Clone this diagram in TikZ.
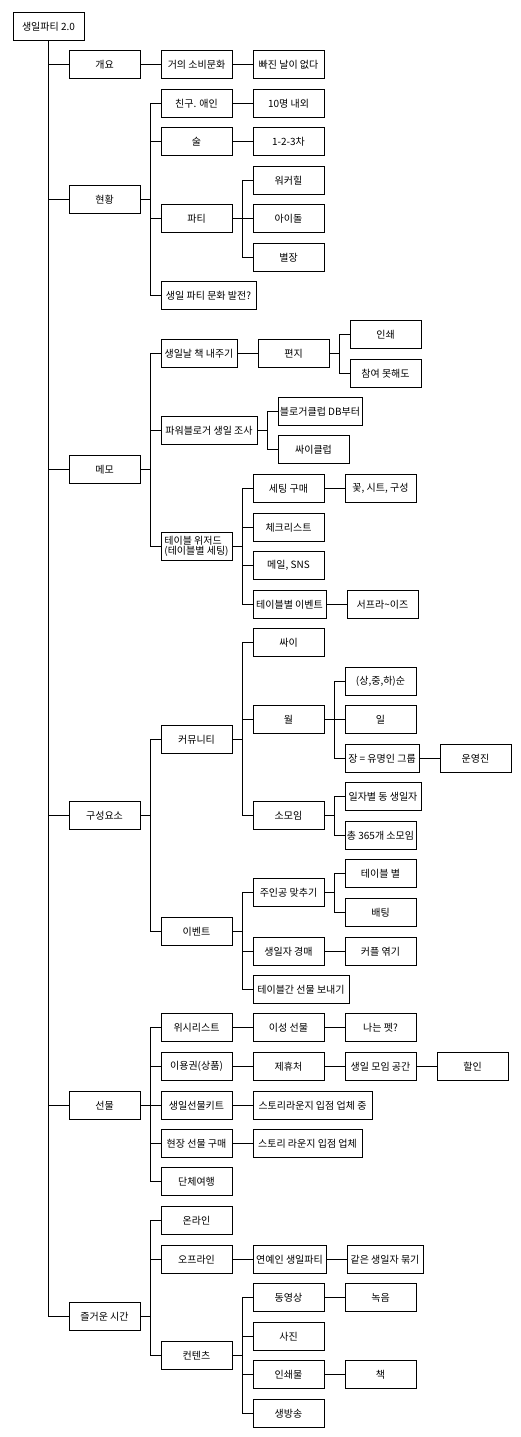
\documentclass[tikz,border=0pt]{standalone}
\usepackage{fontspec}
\setmainfont{Noto Sans CJK KR}
\usepackage{tikz}

\tikzset{
  box/.style={draw, line width=1pt, anchor=west, minimum width=71pt, minimum height=28pt,
    inner xsep=0pt, inner ysep=0pt, font=\fontsize{10}{10.5}\selectfont},
  wire/.style={line width=1pt}
}

\begin{document}
\begin{tikzpicture}[x=1pt, y=-1pt]
    \useasboundingbox (0,0) rectangle (520,1437);
    \begin{scope}[shift={(0.5,0.5)}]
    % root and first level
    \node[box] (root) at (12,26) {생일파티 2.0};
    \node[box] (gaeyo) at (68,64) {개요};
    \node[box] (hyun) at (68,199) {현황};
    \node[box] (memo) at (68,469) {메모};
    \node[box] (gusung) at (68,815) {구성요소};
    \node[box] (sunmul) at (68,1105) {선물};
    \node[box] (jeulgeoun) at (68,1316) {즐거운 시간};
    % second level
    \node[box] (sobi) at (160,64) {거의 소비문화};
    \node[box] (chingu) at (160,103) {친구. 애인};
    \node[box] (sul) at (160,141) {술};
    \node[box] (party) at (160,218) {파티};
    \node[box, minimum width=95pt] (baljeon) at (160,295) {생일 파티 문화 발전?};
    \node[box, minimum width=76pt] (chaek) at (160,353) {생일날 책 내주기};
    \node[box, minimum width=96pt] (blog) at (160,430) {파워블로거 생일 조사};
    \node[box, align=left] (wizard) at (160,546) {테이블 위저드\\(테이블별 세팅)};
    \node[box] (commu) at (160,739) {커뮤니티};
    \node[box] (event) at (160,931) {이벤트};
    \node[box] (wish) at (160,1027) {위시리스트};
    \node[box] (iyong) at (160,1066) {이용권(상품)};
    \node[box] (kit) at (160,1105) {생일선물키트};
    \node[box] (hyunjang) at (160,1143) {현장 선물 구매};
    \node[box] (danche) at (160,1181) {단체여행};
    \node[box] (online) at (160,1220) {온라인};
    \node[box] (offline) at (160,1259) {오프라인};
    \node[box] (contents) at (160,1355) {컨텐츠};
    % third level
    \node[box] (ppajin) at (252,64) {빠진 날이 없다};
    \node[box] (sip) at (252,103) {10명 내외};
    \node[box] (cha) at (252,141) {1-2-3차};
    \node[box] (walker) at (252,180) {워커힐};
    \node[box] (idol) at (252,218) {아이돌};
    \node[box] (byeol) at (252,257) {별장};
    \node[box] (pyeonji) at (257,353) {편지};
    \node[box, minimum width=84pt] (dbclub) at (277,411) {블로거클럽 DB부터};
    \node[box] (cyclub) at (277,449) {싸이클럽};
    \node[box] (setting) at (252,488) {세팅 구매};
    \node[box] (check) at (252,527) {체크리스트};
    \node[box] (mail) at (252,565) {메일, SNS};
    \node[box, minimum width=73pt] (tevent) at (252,604) {테이블별 이벤트};
    \node[box] (cy) at (252,642) {싸이};
    \node[box] (wol) at (252,719) {월};
    \node[box] (somoim) at (252,815) {소모임};
    \node[box] (juingong) at (252,892) {주인공 맞추기};
    \node[box] (gyeongmae) at (252,951) {생일자 경매};
    \node[box, minimum width=96pt] (tablegift) at (252,989) {테이블간 선물 보내기};
    \node[box] (iseong) at (252,1027) {이성 선물};
    \node[box] (jehyu) at (252,1066) {제휴처};
    \node[box, minimum width=119pt] (story1) at (252,1105) {스토리라운지 입점 업체 중};
    \node[box, minimum width=109pt] (story2) at (252,1143) {스토리 라운지 입점 업체};
    \node[box, minimum width=73pt] (yeonye) at (252,1259) {연예인 생일파티};
    \node[box] (video) at (252,1297) {동영상};
    \node[box] (photo) at (252,1336) {사진};
    \node[box] (print) at (252,1374) {인쇄물};
    \node[box] (live) at (252,1413) {생방송};
    % fourth and fifth level
    \node[box] (inswae) at (349,334) {인쇄};
    \node[box] (chamyeo) at (349,373) {참여 못해도};
    \node[box] (kkot) at (344,488) {꽃, 시트, 구성};
    \node[box] (surprise) at (346,604) {서프라\textasciitilde 이즈};
    \node[box] (sangjung) at (344,681) {(상,중,하)순};
    \node[box] (il) at (344,719) {일};
    \node[box, minimum width=74pt] (jang) at (344,758) {장 = 유명인 그룹};
    \node[box, minimum width=76pt] (ilja) at (344,796) {일자별 동 생일자};
    \node[box] (chong) at (344,835) {총 365개 소모임};
    \node[box] (tablebyeol) at (344,873) {테이블 별};
    \node[box] (betting) at (344,912) {배팅};
    \node[box] (couple) at (344,951) {커플 엮기};
    \node[box] (pet) at (344,1027) {나는 펫?};
    \node[box] (moim) at (344,1066) {생일 모임 공간};
    \node[box, minimum width=76pt] (gateun) at (346,1259) {같은 생일자 묶기};
    \node[box] (nokeum) at (344,1297) {녹음};
    \node[box] (book) at (344,1374) {책};
    \node[box] (unyoung) at (439,758) {운영진};
    \node[box] (halin) at (436,1066) {할인};
    % connectors
    \foreach \c in {gaeyo,hyun,memo,gusung,sunmul,jeulgeoun}
        \draw[wire] (root.south) |- (\c.west);
    \foreach \p/\c in {gaeyo/sobi, sobi/ppajin,
        hyun/chingu, hyun/sul, hyun/party, hyun/baljeon, chingu/sip, sul/cha,
        party/walker, party/idol, party/byeol,
        memo/chaek, memo/blog, memo/wizard, chaek/pyeonji, pyeonji/inswae, pyeonji/chamyeo,
        blog/dbclub, blog/cyclub, wizard/setting, wizard/check, wizard/mail, wizard/tevent,
        setting/kkot, tevent/surprise,
        gusung/commu, gusung/event, commu/cy, commu/wol, commu/somoim,
        wol/sangjung, wol/il, wol/jang, jang/unyoung, somoim/ilja, somoim/chong,
        event/juingong, event/gyeongmae, event/tablegift,
        juingong/tablebyeol, juingong/betting, gyeongmae/couple,
        sunmul/wish, sunmul/iyong, sunmul/kit, sunmul/hyunjang, sunmul/danche,
        wish/iseong, iseong/pet, iyong/jehyu, jehyu/moim, moim/halin,
        kit/story1, hyunjang/story2,
        jeulgeoun/online, jeulgeoun/offline, jeulgeoun/contents,
        offline/yeonye, yeonye/gateun,
        contents/video, contents/photo, contents/print, contents/live,
        video/nokeum, print/book}
        \draw[wire] (\p.east) -- ++(10pt,0) |- (\c.west);
    \end{scope}
\end{tikzpicture}
\end{document}
